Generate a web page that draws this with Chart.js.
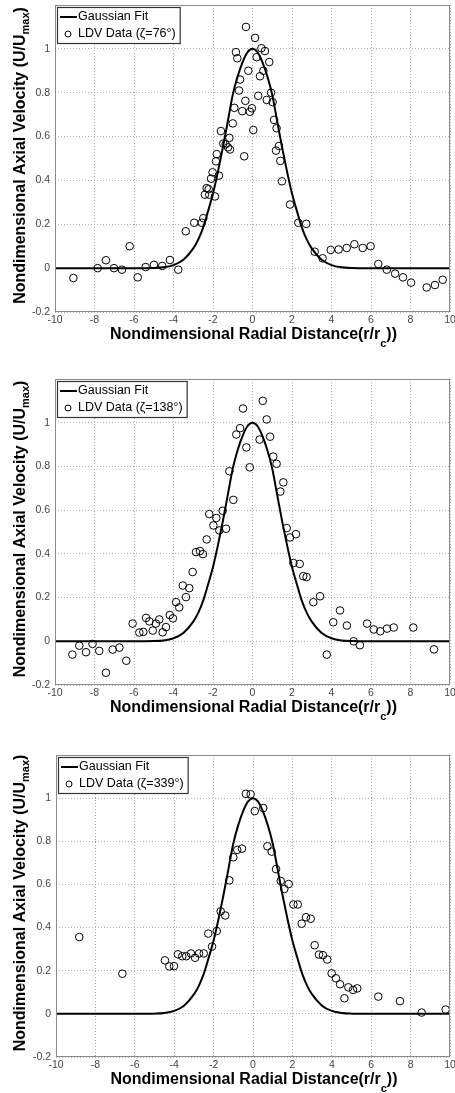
<!DOCTYPE html>
<html>
<head>
<meta charset="utf-8">
<script src="https://cdn.jsdelivr.net/npm/chart.js@4.4.1/dist/chart.umd.min.js"></script>
<style>
  html, body { margin: 0; padding: 0; background: #fff; }
  #page { position: relative; width: 455px; height: 1093px; }
  .box { position: absolute; left: 0; width: 455px; }
</style>
</head>
<body>
<div id="page">
  <div class="box" style="top:0;height:355px"><canvas id="c76"></canvas></div>
  <div class="box" style="top:372px;height:355px"><canvas id="c138"></canvas></div>
  <div class="box" style="top:748px;height:345px"><canvas id="c339"></canvas></div>
</div>
<script>
// axes
const xTicks = [-10, -8, -6, -4, -2, 0, 2, 4, 6, 8, 10];
const yTicks = [-0.2, 0, 0.2, 0.4, 0.6, 0.8, 1];

// gaussian fit curve (same in all three panels)
const fitR = [-10, -6, -5, -4.5, -4, -3.5, -3, -2.75, -2.5, -2.25, -2, -1.75, -1.5, -1.25, -1, -0.75, -0.5, -0.25, 0,
  0.25, 0.5, 0.75, 1, 1.25, 1.5, 1.75, 2, 2.25, 2.5, 2.75, 3, 3.5, 4, 4.5, 5, 6, 10];
const fitU = [0, 0, 0.001, 0.004, 0.014, 0.038, 0.09, 0.13, 0.185, 0.26, 0.34, 0.44, 0.55, 0.67, 0.79, 0.875, 0.94, 0.985, 1,
  0.985, 0.94, 0.875, 0.79, 0.67, 0.55, 0.44, 0.34, 0.26, 0.185, 0.13, 0.09, 0.038, 0.014, 0.004, 0.001, 0, 0];

// LDV data, zeta = 76
const r76 = [-9.07, -7.84, -7.42, -7.01, -6.61, -6.22, -5.81, -5.41, -4.99, -4.57, -4.18, -3.76, -3.38, -2.95, -2.57, -2.49,
  -2.41, -2.32, -2.22, -2.19, -2.10, -2.02, -1.90, -1.85, -1.81, -1.70, -1.60, -1.48, -1.36, -1.24, -1.14, -1.17, -1.00,
  -0.92, -0.84, -0.77, -0.68, -0.63, -0.52, -0.42, -0.36, -0.33, -0.21, -0.13, -0.03, 0.04, 0.13, 0.21, 0.29, 0.38, 0.45,
  0.55, 0.63, 0.72, 0.85, 0.94, 1.02, 1.09, 1.19, 1.22, 1.34, 1.41, 1.49, 1.90, 2.32, 2.72, 3.15, 3.55, 3.96, 4.36, 4.77,
  5.16, 5.58, 5.98, 6.37, 6.80, 7.22, 7.62, 8.03, 8.82, 9.24, 9.63];
const u76 = [-0.045, 0.0, 0.036, 0.0, -0.007, 0.10, -0.042, 0.005, 0.015, 0.01, 0.037, -0.007, 0.168, 0.207, 0.207, 0.228,
  0.335, 0.365, 0.36, 0.335, 0.408, 0.437, 0.327, 0.487, 0.52, 0.422, 0.625, 0.568, 0.565, 0.551, 0.541, 0.594, 0.66,
  0.731, 0.985, 0.957, 0.81, 0.86, 0.716, 0.51, 0.763, 1.10, 0.90, 0.713, 0.729, 0.63, 1.05, 0.962, 0.786, 0.875, 1.003,
  0.90, 0.99, 0.767, 0.94, 0.80, 0.757, 0.676, 0.536, 0.638, 0.557, 0.489, 0.396, 0.29, 0.207, 0.202, 0.075, 0.045, 0.083,
  0.085, 0.092, 0.109, 0.092, 0.10, 0.019, -0.007, -0.025, -0.042, -0.066, -0.088, -0.077, -0.053];

// LDV data, zeta = 138
const r138 = [-9.12, -8.77, -8.43, -8.10, -7.76, -7.42, -7.08, -6.74, -6.39, -6.07, -5.73, -5.53, -5.39, -5.22, -5.05, -4.89,
  -4.72, -4.55, -4.38, -4.19, -4.03, -3.87, -3.71, -3.53, -3.37, -3.20, -3.03, -2.86, -2.66, -2.51, -2.32, -2.19, -1.98,
  -1.83, -1.68, -1.51, -1.34, -1.17, -0.97, -0.82, -0.63, -0.48, -0.31, -0.14, 0.36, 0.52, 0.72, 0.89, 1.05, 1.22, 1.41,
  1.56, 1.73, 1.90, 2.07, 2.20, 2.39, 2.57, 2.74, 3.08, 3.42, 3.76, 4.09, 4.43, 4.78, 5.12, 5.44, 5.80, 6.14, 6.47, 6.81,
  7.15, 8.14, 9.19];
const u138 = [-0.061, -0.02, -0.05, -0.012, -0.044, -0.144, -0.038, -0.029, -0.089, 0.081, 0.04, 0.043, 0.107, 0.091, 0.049,
  0.081, 0.10, 0.041, 0.065, 0.12, 0.105, 0.179, 0.155, 0.255, 0.202, 0.243, 0.317, 0.408, 0.413, 0.399, 0.466, 0.582, 0.53,
  0.564, 0.507, 0.597, 0.515, 0.778, 0.647, 0.946, 0.975, 1.065, 0.887, 0.796, 0.923, 1.10, 1.015, 0.936, 0.845, 0.812,
  0.685, 0.727, 0.518, 0.475, 0.358, 0.49, 0.354, 0.298, 0.294, 0.179, 0.206, -0.061, 0.087, 0.141, 0.072, 0.0, -0.018,
  0.081, 0.054, 0.046, 0.058, 0.063, 0.063, -0.037];

// LDV data, zeta = 339
const r339 = [-8.82, -6.63, -4.47, -4.25, -4.01, -3.81, -3.59, -3.39, -3.15, -2.94, -2.74, -2.50, -2.27, -2.08, -1.84, -1.64,
  -1.41, -1.20, -1.00, -0.80, -0.56, -0.36, -0.12, 0.09, 0.52, 0.73, 0.95, 1.17, 1.41, 1.59, 1.81, 2.05, 2.27, 2.47, 2.69,
  2.93, 3.13, 3.35, 3.55, 3.77, 3.99, 4.21, 4.42, 4.64, 4.84, 5.08, 5.29, 6.36, 7.46, 8.56, 9.78];
const u339 = [0.356, 0.186, 0.248, 0.22, 0.221, 0.276, 0.267, 0.267, 0.28, 0.26, 0.28, 0.28, 0.372, 0.312, 0.384, 0.475,
  0.456, 0.619, 0.726, 0.76, 0.766, 1.02, 1.018, 0.94, 0.954, 0.777, 0.752, 0.671, 0.616, 0.579, 0.602, 0.507, 0.507, 0.418,
  0.448, 0.441, 0.318, 0.275, 0.272, 0.252, 0.188, 0.165, 0.137, 0.072, 0.123, 0.111, 0.118, 0.08, 0.059, 0.006, 0.02];

const FONT = '"Liberation Sans", Arial, Helvetica, sans-serif';
Chart.defaults.font.family = FONT;

// write text made of parts, some of them subscript
function richText(ctx, parts, x, y, size, subSize, subDrop) {
  let w = 0;
  parts.forEach(p => {
    ctx.font = 'bold ' + (p.sub ? subSize : size) + 'px ' + FONT;
    p.w = ctx.measureText(p.t).width;
    w += p.w;
  });
  let cx = x - w / 2;
  parts.forEach(p => {
    ctx.font = 'bold ' + (p.sub ? subSize : size) + 'px ' + FONT;
    ctx.fillText(p.t, cx, p.sub ? y + subDrop : y);
    cx += p.w;
  });
}

const decor = {
  id: 'decor',
  afterDraw(chart, args, opts) {
    const { ctx, chartArea: a } = chart;
    ctx.save();
    // box around the axes
    ctx.strokeStyle = '#8a8a8a';
    ctx.lineWidth = 1;
    ctx.strokeRect(a.left + 0.5, a.top + 0.5, a.right - a.left - 1, a.bottom - a.top - 1);

    // axis titles
    ctx.fillStyle = '#000';
    ctx.textBaseline = 'alphabetic';
    ctx.textAlign = 'left';
    richText(ctx, [{ t: 'Nondimensional Radial Distance(r/r' }, { t: 'c', sub: true }, { t: '))' }],
      (a.left + a.right) / 2 + 1, a.bottom + 27, 16, 11, 8);
    ctx.save();
    ctx.translate(25, (a.top + a.bottom) / 2 - 3);
    ctx.rotate(-Math.PI / 2);
    richText(ctx, [{ t: 'Nondimensional Axial Velocity (U/U' }, { t: 'max', sub: true }, { t: ')' }],
      0, 0, 16, 11, 4);
    ctx.restore();

    // legend
    const lx = a.left + 2, ly = a.top + 2;
    ctx.font = '12.5px ' + FONT;
    const tw = Math.max(ctx.measureText('Gaussian Fit').width, ctx.measureText(opts.label).width);
    const bw = 21 + tw + 4, bh = 36;
    ctx.fillStyle = '#fff';
    ctx.fillRect(lx, ly, bw, bh);
    ctx.strokeStyle = '#333';
    ctx.lineWidth = 1.2;
    ctx.strokeRect(lx + 0.5, ly + 0.5, bw, bh);
    ctx.strokeStyle = '#000';
    ctx.lineWidth = 2;
    ctx.beginPath();
    ctx.moveTo(lx + 3, ly + 10);
    ctx.lineTo(lx + 20, ly + 10);
    ctx.stroke();
    ctx.lineWidth = 1;
    ctx.beginPath();
    ctx.arc(lx + 11, ly + 27, 3, 0, Math.PI * 2);
    ctx.stroke();
    ctx.fillStyle = '#000';
    ctx.textBaseline = 'middle';
    ctx.fillText('Gaussian Fit', lx + 21, ly + 10);
    ctx.fillText(opts.label, lx + 21, ly + 27);
    ctx.restore();
  }
};

function makeChart(id, r, u, label, padTop, yWidth, xHeight) {
  const pts = r.map((x, i) => ({ x: x, y: u[i] }));
  const fit = fitR.map((x, i) => ({ x: x, y: fitU[i] }));
  return new Chart(document.getElementById(id), {
    type: 'scatter',
    data: {
      datasets: [
        {
          label: label,
          data: pts,
          pointStyle: 'circle',
          pointRadius: 3.8,
          borderWidth: 1,
          borderColor: '#000',
          backgroundColor: 'rgba(0,0,0,0)',
          order: 2
        },
        {
          label: 'Gaussian Fit',
          data: fit,
          showLine: true,
          pointRadius: 0,
          borderColor: '#000',
          borderWidth: 2,
          cubicInterpolationMode: 'monotone',
          order: 1
        }
      ]
    },
    options: {
      responsive: true,
      maintainAspectRatio: false,
      animation: false,
      devicePixelRatio: 1,
      layout: { padding: { top: padTop, right: 5, left: 0, bottom: 0 } },
      plugins: {
        legend: { display: false },
        tooltip: { enabled: false },
        decor: { label: label }
      },
      scales: {
        x: {
          type: 'linear',
          min: -10,
          max: 10,
          afterBuildTicks: s => { s.ticks = xTicks.map(v => ({ value: v })); },
          afterFit: s => { s.height = xHeight; s.paddingLeft = 0; s.paddingRight = 0; },
          ticks: { color: '#444', font: { size: 10.5 }, padding: 2, maxRotation: 0, callback: v => String(v) },
          grid: { color: '#b0b0b0', lineWidth: 1, drawTicks: false },
          border: { display: false, dash: [1, 2] }
        },
        y: {
          type: 'linear',
          min: -0.2,
          max: 1.2,
          afterBuildTicks: s => { s.ticks = yTicks.map(v => ({ value: v })); },
          afterFit: s => { s.width = yWidth; s.paddingTop = 0; s.paddingBottom = 0; },
          ticks: { color: '#444', font: { size: 10.5 }, padding: 5, callback: v => String(Math.round(v * 10) / 10) },
          grid: { color: '#b0b0b0', lineWidth: 1, drawTicks: false },
          border: { display: false, dash: [1, 2] }
        }
      }
    },
    plugins: [decor]
  });
}

makeChart('c76', r76, u76, 'LDV Data (\u03b6=76\u00b0)', 5, 55, 43);
makeChart('c138', r138, u138, 'LDV Data (\u03b6=138\u00b0)', 7, 55, 42);
makeChart('c339', r339, u339, 'LDV Data (\u03b6=339\u00b0)', 7, 56, 36);
</script>
</body>
</html>
